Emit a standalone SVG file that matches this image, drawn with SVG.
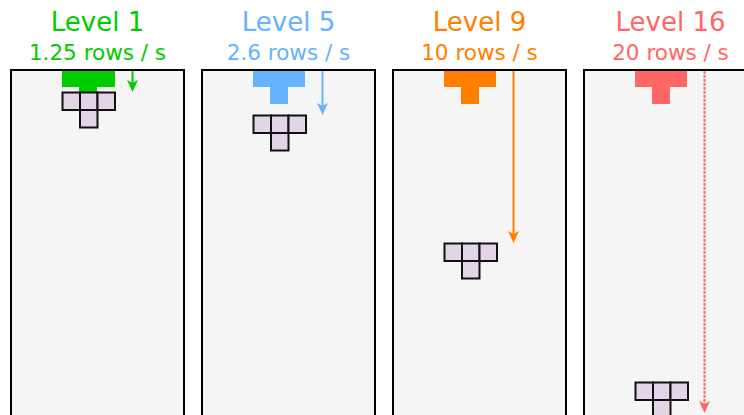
<svg xmlns="http://www.w3.org/2000/svg" width="744" height="415" viewBox="0 0 744 415">
<style>
.box{fill:#f5f5f5;stroke:#000;stroke-width:2}
.cell{fill:#e1d5e7;stroke:#111;stroke-width:2}
.t1{font-family:"DejaVu Sans",Verdana,sans-serif;font-size:26px;text-anchor:middle}
.t2{font-family:"DejaVu Sans",Verdana,sans-serif;font-size:21.5px;text-anchor:middle}
</style>
<defs>
<g id="piece"><rect class="cell" x="0" y="0" width="17.5" height="17.5"/><rect class="cell" x="17.5" y="0" width="17.5" height="17.5"/><rect class="cell" x="35" y="0" width="17.5" height="17.5"/><rect class="cell" x="17.5" y="17.5" width="17.5" height="17.5"/></g>
<path id="head" d="M-5.5,-12 L0,0 L5.5,-12 L0,-9 Z"/>
</defs>

<g id="level1">
<text class="t1" x="97.5" y="31" fill="#00cc00">Level 1</text>
<text class="t2" x="97.5" y="60" fill="#00cc00">1.25 rows / s</text>
<rect class="box" x="11" y="70" width="173" height="360"/>
<path d="M62,71 H115 V87 H97 V104 H79 V87 H62 Z" fill="#00cc00"/>
<use href="#piece" x="62.5" y="92.5"/>
</g>

<g id="level5">
<text class="t1" x="288.5" y="31" fill="#66b2ff">Level 5</text>
<text class="t2" x="288.5" y="60" fill="#66b2ff">2.6 rows / s</text>
<rect class="box" x="202" y="70" width="173" height="360"/>
<path d="M253,71 H305 V87 H288 V104 H270 V87 H253 Z" fill="#66b2ff"/>
<use href="#piece" x="253.5" y="115.5"/>
</g>

<g id="level9">
<text class="t1" x="479.5" y="31" fill="#ff8000">Level 9</text>
<text class="t2" x="479.5" y="60" fill="#ff8000">10 rows / s</text>
<rect class="box" x="393" y="70" width="173" height="360"/>
<path d="M444,71 H496 V87 H479 V104 H461 V87 H444 Z" fill="#ff8000"/>
<use href="#piece" x="444.5" y="243.5"/>
</g>

<g id="level16">
<text class="t1" x="670.5" y="31" fill="#ff6666">Level 16</text>
<text class="t2" x="670.5" y="60" fill="#ff6666">20 rows / s</text>
<rect class="box" x="584" y="70" width="173" height="360"/>
<path d="M635,71 H687 V87 H670 V104 H652 V87 H635 Z" fill="#ff6666"/>
<use href="#piece" x="635.5" y="382.5"/>
</g>

<g id="connectors">
<line x1="132.5" y1="71" x2="132.5" y2="84" stroke="#00cc00" stroke-width="2"/>
<use href="#head" x="132.5" y="92" fill="#00cc00"/>
<line x1="322.5" y1="71" x2="322.5" y2="107" stroke="#66b2ff" stroke-width="2"/>
<use href="#head" x="322.5" y="115" fill="#66b2ff"/>
<line x1="513.5" y1="71" x2="513.5" y2="235" stroke="#ff8000" stroke-width="2"/>
<use href="#head" x="513.5" y="243" fill="#ff8000"/>
<line x1="704.5" y1="71" x2="704.5" y2="405" stroke="#ff6666" stroke-width="2" stroke-dasharray="3 1"/>
<use href="#head" x="704.5" y="413" fill="#ff6666"/>
</g>
</svg>
